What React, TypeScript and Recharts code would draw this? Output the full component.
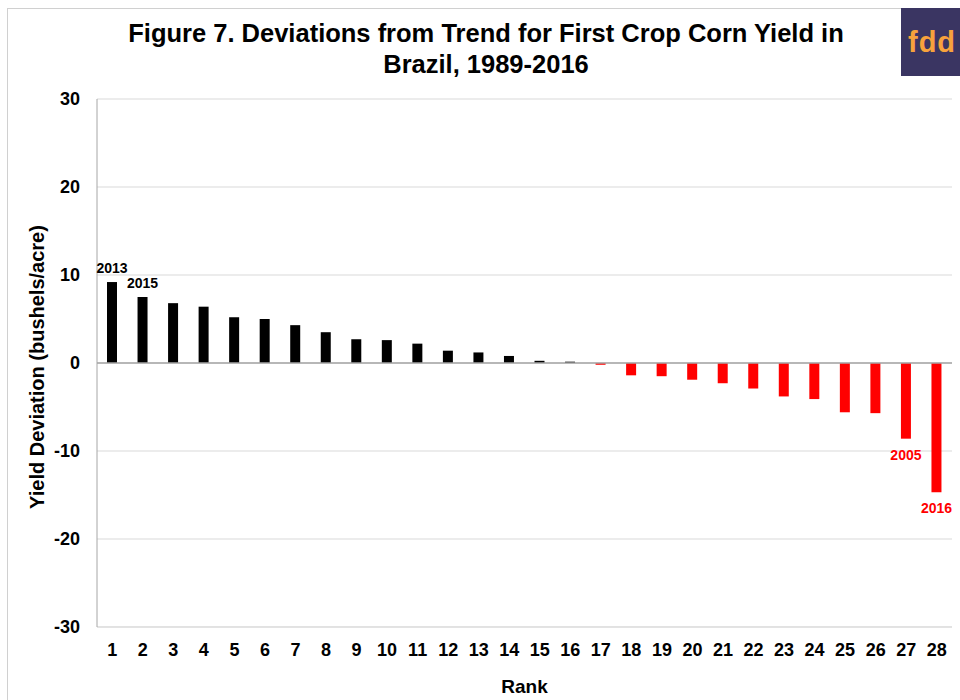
import { BarChart, Bar, CartesianGrid, Cell, LabelList, ReferenceLine, XAxis, YAxis } from "recharts";

const ranks = [
  "1", "2", "3", "4", "5", "6", "7", "8", "9", "10", "11", "12", "13", "14",
  "15", "16", "17", "18", "19", "20", "21", "22", "23", "24", "25", "26", "27", "28",
];

const deviations = [
  9.2, 7.5, 6.8, 6.4, 5.2, 5.0, 4.3, 3.5, 2.7, 2.6, 2.2, 1.4, 1.2, 0.8,
  0.25, 0.15, -0.2, -1.4, -1.5, -1.9, -2.3, -2.9, -3.8, -4.1, -5.6, -5.7, -8.6, -14.7,
];

// only a few bars carry their crop year
const yearLabels = [
  "2013", "2015", "", "", "", "", "", "", "", "", "", "", "", "",
  "", "", "", "", "", "", "", "", "", "", "", "", "2005", "2016",
];

const yTicks = [-30, -20, -10, 0, 10, 20, 30];

const data = ranks.map((rank, i) => ({ rank, value: deviations[i], year: yearLabels[i] }));

const FONT = '"Liberation Sans", Arial, sans-serif';
const RED = "#ff0000";

function YearLabel(props: any) {
  const { x, y, width, height, index } = props;
  const year = yearLabels[index];
  if (!year) return null;
  const v = deviations[index];
  const top = Math.min(y, y + height);
  const bottom = Math.max(y, y + height);
  const cy = v >= 0 ? top - 14 : bottom + 16;
  return (
    <text
      x={x + width / 2}
      y={cy}
      textAnchor="middle"
      dominantBaseline="central"
      fontFamily={FONT}
      fontWeight="bold"
      fontSize={14}
      fill={v >= 0 ? "#000" : RED}
    >
      {year}
    </text>
  );
}

export default function App() {
  return (
    <div
      style={{
        position: "absolute",
        left: 0,
        top: 0,
        width: 960,
        height: 700,
        overflow: "hidden",
        background: "#fff",
        fontFamily: FONT,
      }}
    >
      {/* outer frame, only top and left edges show */}
      <div
        style={{
          position: "absolute",
          left: 7,
          top: 8,
          width: 980,
          height: 720,
          border: "1px solid #d0d0d0",
        }}
      />

      <BarChart
        width={960}
        height={700}
        data={data}
        margin={{ top: 99, right: 8, bottom: 0, left: 0 }}
        barSize={10}
        style={{ position: "absolute", left: 0, top: 0 }}
      >
        <CartesianGrid vertical={false} stroke="#d9d9d9" />
        <XAxis
          dataKey="rank"
          height={73}
          interval={0}
          tickLine={false}
          tickSize={0}
          tickMargin={16}
          axisLine={{ stroke: "#d9d9d9" }}
          tick={{ fill: "#000", fontSize: 18, fontWeight: "bold", fontFamily: FONT }}
          label={({ viewBox }: any) => (
            <text
              x={viewBox.x + viewBox.width / 2}
              y={693}
              textAnchor="middle"
              fontFamily={FONT}
              fontWeight="bold"
              fontSize={19}
              fill="#000"
            >
              Rank
            </text>
          )}
        />
        <YAxis
          width={97}
          domain={[-30, 30]}
          ticks={yTicks}
          tickLine={false}
          tickSize={0}
          tickMargin={17}
          axisLine={{ stroke: "#a6a6a6" }}
          tick={{ fill: "#000", fontSize: 18, fontWeight: "bold", fontFamily: FONT }}
          label={({ viewBox }: any) => {
            const cx = 37;
            const cy = viewBox.y + viewBox.height / 2 + 4;
            return (
              <text
                x={cx}
                y={cy}
                transform={`rotate(-90, ${cx}, ${cy})`}
                textAnchor="middle"
                dominantBaseline="central"
                fontFamily={FONT}
                fontWeight="bold"
                fontSize={20}
                fill="#000"
              >
                Yield Deviation (bushels/acre)
              </text>
            );
          }}
        />
        <ReferenceLine y={0} stroke="#a6a6a6" strokeWidth={1.5} />
        <Bar dataKey="value" isAnimationActive={false}>
          {data.map((d, i) => (
            <Cell key={i} fill={d.value >= 0 ? "#000" : RED} />
          ))}
          <LabelList dataKey="year" content={<YearLabel />} />
        </Bar>
      </BarChart>

      {/* title */}
      <div
        style={{
          position: "absolute",
          left: 12,
          top: 18,
          width: 948,
          textAlign: "center",
          fontSize: 25.5,
          fontWeight: "bold",
          lineHeight: "31px",
          color: "#000",
        }}
      >
        Figure 7. Deviations from Trend for First Crop Corn Yield in
        <br />
        Brazil, 1989-2016
      </div>

      {/* fdd badge */}
      <div
        style={{
          position: "absolute",
          left: 901,
          top: 8,
          width: 59,
          height: 68,
          background: "#3a3562",
          color: "#f7a23c",
          fontSize: 29,
          fontWeight: "bold",
          lineHeight: "68px",
          textAlign: "left",
          paddingLeft: 7,
          boxSizing: "border-box",
          letterSpacing: 1,
        }}
      >
        fdd
      </div>
    </div>
  );
}
